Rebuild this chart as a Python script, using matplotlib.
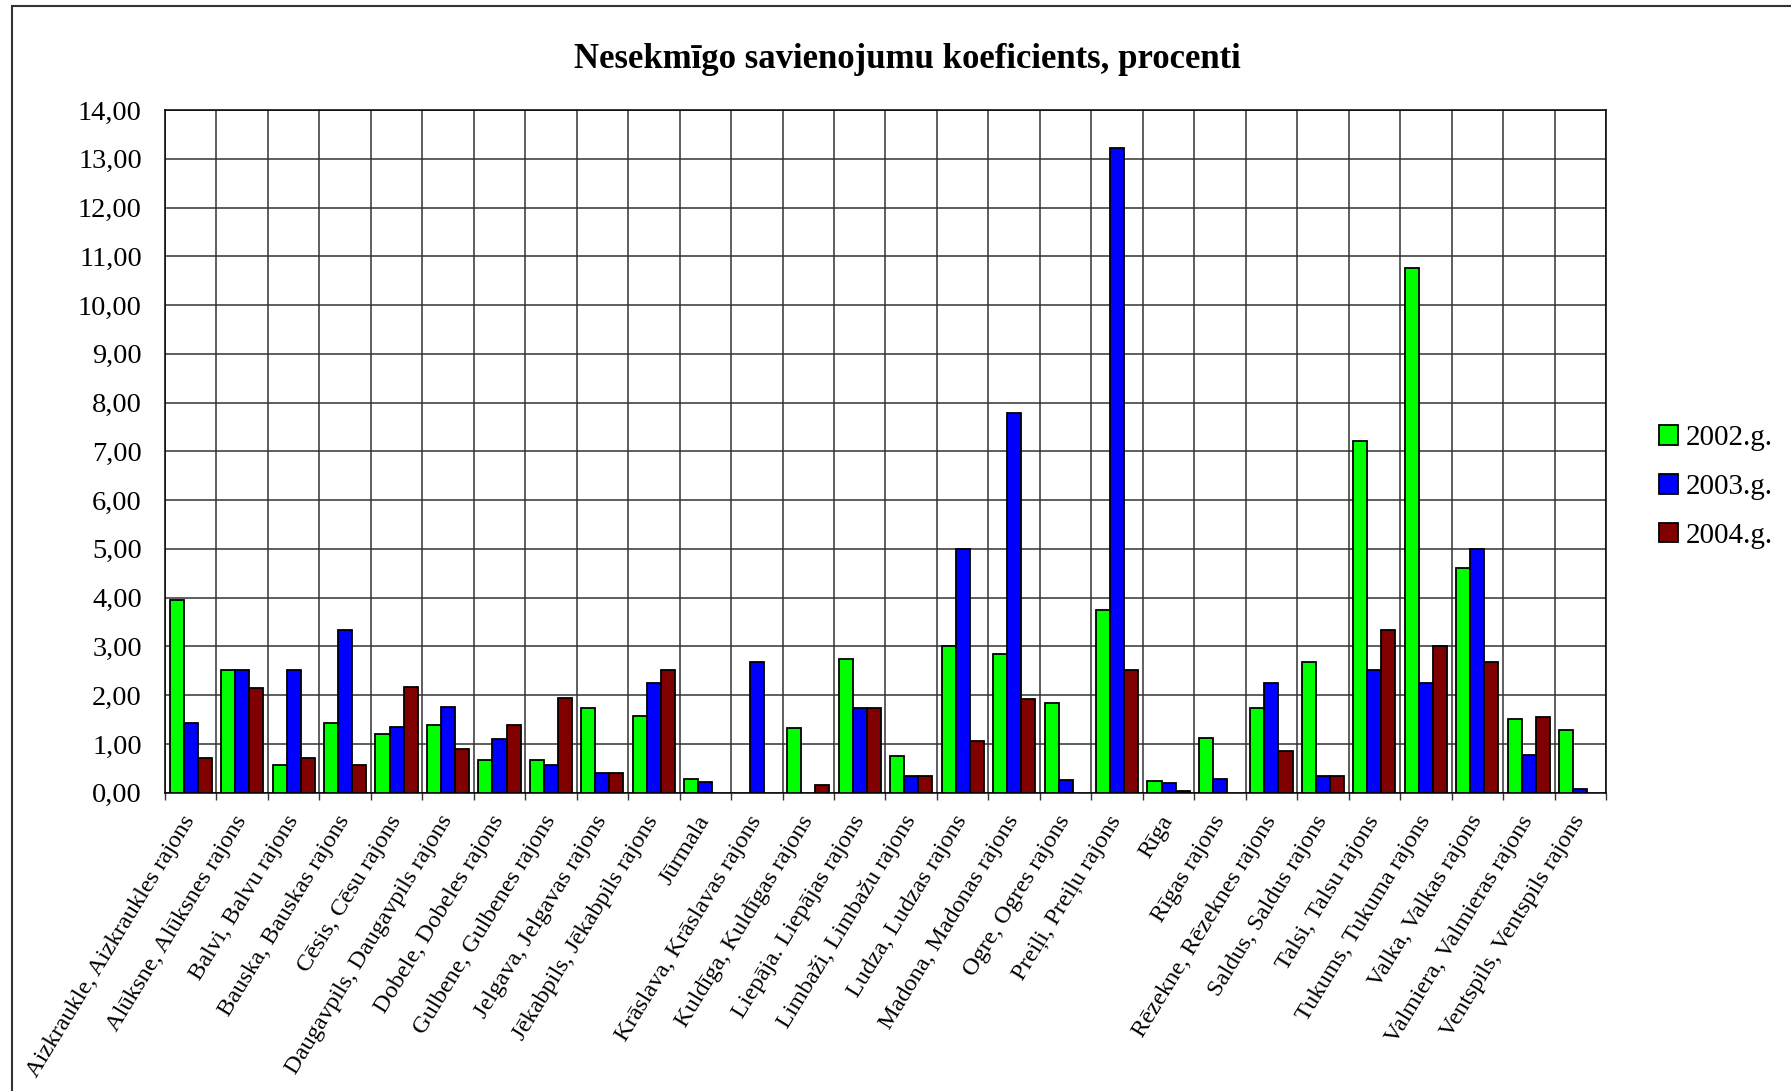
import matplotlib
matplotlib.use("Agg")
import matplotlib.pyplot as plt
from matplotlib.patches import Rectangle
from matplotlib.ticker import FuncFormatter, MultipleLocator
import numpy as np

plt.rcParams['font.family'] = ['Liberation Serif', 'DejaVu Serif']

# districts (rajoni) on the category axis
districts = [
    "Aizkraukle, Aizkraukles rajons", "Alūksne, Alūksnes rajons",
    "Balvi, Balvu rajons", "Bauska, Bauskas rajons", "Cēsis, Cēsu rajons",
    "Daugavpils, Daugavpils rajons", "Dobele, Dobeles rajons",
    "Gulbene, Gulbenes rajons", "Jelgava, Jelgavas rajons",
    "Jēkabpils, Jēkabpils rajons", "Jūrmala", "Krāslava, Krāslavas rajons",
    "Kuldīga, Kuldīgas rajons", "Liepāja. Liepājas rajons",
    "Limbaži, Limbažu rajons", "Ludza, Ludzas rajons",
    "Madona, Madonas rajons", "Ogre, Ogres rajons", "Preiļi, Preiļu rajons",
    "Rīga", "Rīgas rajons", "Rēzekne, Rēzeknes rajons",
    "Saldus, Saldus rajons", "Talsi, Talsu rajons", "Tukums, Tukuma rajons",
    "Valka, Valkas rajons", "Valmiera, Valmieras rajons",
    "Ventspils, Ventspils rajons",
]

years = ["2002.g.", "2003.g.", "2004.g."]

# None = no value for that year
y2002 = [3.96, 2.51, 0.56, 1.43, 1.21, 1.38, 0.67, 0.67, 1.73, 1.57,
         0.29, None, 1.32, 2.74, 0.75, 3.00, 2.85, 1.83, 3.74, 0.24,
         1.12, 1.74, 2.69, 7.22, 10.76, 4.61, 1.51, 1.29]
y2003 = [1.43, 2.51, 2.51, 3.34, 1.34, 1.76, 1.11, 0.56, 0.41, 2.24,
         0.23, 2.69, None, 1.73, 0.35, 5.00, 7.78, 0.26, 13.21, 0.20,
         0.29, 2.24, 0.35, 2.51, 2.24, 5.00, 0.77, 0.08]
y2004 = [0.71, 2.14, 0.71, 0.56, 2.16, 0.90, 1.38, 1.94, 0.41, 2.51,
         None, None, 0.15, 1.73, 0.35, 1.07, 1.93, None, 2.51, 0.04,
         None, 0.86, 0.35, 3.34, 3.00, 2.69, 1.55, None]

colors = ["#00ff00", "#0000ff", "#800000"]

fig = plt.figure(figsize=(17.91, 10.91), dpi=100)
ax = fig.add_axes([0.0921, 0.2734, 0.8046, 0.6258])

x = np.arange(len(districts))
w = 0.273
series = [y2002, y2003, y2004]
handles = []
for k, vals in enumerate(series):
    h = np.array([np.nan if v is None else v for v in vals], dtype=float)
    b = ax.bar(x + (k - 1) * w, h, w, color=colors[k], edgecolor="black",
               linewidth=1.3, zorder=3, label=years[k])
    handles.append(b)

ax.set_xlim(-0.5, len(districts) - 0.5)
ax.set_ylim(0, 14)
ax.yaxis.set_major_locator(MultipleLocator(1))
ax.yaxis.set_major_formatter(FuncFormatter(lambda v, p: f"{v:.2f}".replace(".", ",")))

# category labels in the middle, tick marks and grid on the boundaries
ax.set_xticks(x)
ax.set_xticklabels(districts, rotation=58.5, ha="right", va="center",
                   rotation_mode="anchor", fontsize=17.6)
ax.set_xticks(np.arange(len(districts) + 1) - 0.5, minor=True)
ax.tick_params(axis="x", which="major", length=0, pad=17.5)
ax.tick_params(axis="x", which="minor", length=5, width=1, color="#333333")
ax.tick_params(axis="y", length=0, pad=16.6, labelsize=20.5)

ax.grid(True, axis="y", which="major", color="#333333", linewidth=1.1, zorder=0)
ax.grid(True, axis="x", which="minor", color="#333333", linewidth=1.1, zorder=0)
ax.set_axisbelow(True)
for s in ax.spines.values():
    s.set_color("black")
    s.set_linewidth(1.1)

fig.text(0.5064, 0.9459, "Nesekmīgo savienojumu koeficients, procenti",
         ha="center", va="center", fontsize=25, fontweight="bold")

ax.legend(handles=handles, loc="center left",
          bbox_to_anchor=(0.9263, 0.5535), bbox_transform=fig.transFigure,
          frameon=False, fontsize=21, handlelength=0.65, handleheight=0.65,
          handletextpad=0.25, labelspacing=0.78, borderpad=0, borderaxespad=0)

# outer chart border (runs off the right and bottom edges)
fig.patches.append(Rectangle((11.5, -20), 1900, 1091 - 6 + 20,
                             transform=None, fill=False, edgecolor="#333333",
                             linewidth=1.5, figure=fig))

fig.savefig("out.png", dpi=100)
